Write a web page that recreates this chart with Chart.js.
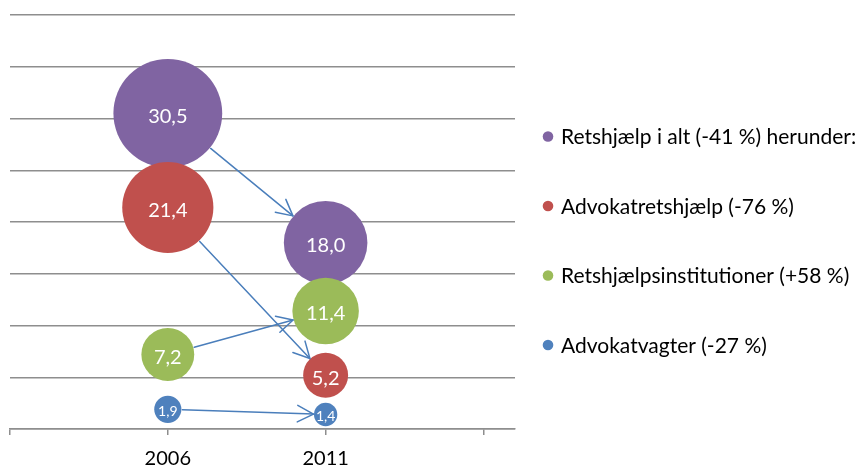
<!DOCTYPE html>
<html>
<head>
<meta charset="utf-8">
<script src="https://cdn.jsdelivr.net/npm/chart.js@4/dist/chart.umd.min.js"></script>
<style>
html, body { margin: 0; padding: 0; background: #ffffff; }
canvas { display: block; }
</style>
</head>
<body>
<canvas id="chart" width="864" height="468"></canvas>
<script>
// ---- data ----
const years = [2006, 2011];
const seriesNames = [
  'Retshjælp i alt (-41 %) herunder:',
  'Advokatretshjælp (-76 %)',
  'Retshjælpsinstitutioner (+58 %)',
  'Advokatvagter (-27 %)'
];
const totalAid = [30.5, 18.0];
const lawyerAid = [21.4, 5.2];
const institutions = [7.2, 11.4];
const lawyerDuty = [1.9, 1.4];
const xTickValues = [2001, 2006, 2011, 2016];
const xTickLabels = ['', '2006', '2011', ''];

// ---- styling ----
const seriesColors = ['#8064A2', '#C0504D', '#9BBB59', '#4F81BD'];
const arrowColor = '#4A7EBB';
const gridColor = '#8e8e8e';
const FONT = 'Lato';
const bubbleScale = 9.85;

const seriesValues = [totalAid, lawyerAid, institutions, lawyerDuty];

const datasets = seriesValues.map((vals, i) => ({
  label: seriesNames[i],
  data: years.map((yr, j) => ({ x: yr, y: vals[j] })),
  backgroundColor: seriesColors[i],
  borderColor: seriesColors[i],
  borderWidth: 0,
  hoverBorderWidth: 0,
  order: seriesValues.length - i,
  clip: false,
  radius: (ctx) => bubbleScale * Math.sqrt(ctx.raw ? ctx.raw.y : 1)
}));

const fmt = (v) => v.toFixed(1).replace('.', ',');

const arrowsAndLabels = {
  id: 'arrowsAndLabels',
  afterDatasetsDraw(chart) {
    const ctx = chart.ctx;
    ctx.save();
    chart.data.datasets.forEach((ds, di) => {
      const meta = chart.getDatasetMeta(di);
      const a = meta.data[0], b = meta.data[1];
      if (!a || !b) return;
      const ra = a.options.radius, rb = b.options.radius;
      const dx = b.x - a.x, dy = b.y - a.y;
      const len = Math.hypot(dx, dy);
      const ux = dx / len, uy = dy / len;
      const sx = a.x + ux * (ra + 1), sy = a.y + uy * (ra + 1);
      const ex = b.x - ux * (rb + 0.5), ey = b.y - uy * (rb + 0.5);
      ctx.strokeStyle = arrowColor;
      ctx.lineWidth = 1.5;
      ctx.lineCap = 'round';
      ctx.lineJoin = 'round';
      ctx.beginPath();
      ctx.moveTo(sx, sy);
      ctx.lineTo(ex, ey);
      ctx.stroke();
      const ang = Math.atan2(uy, ux);
      const head = 18, spread = 0.48;
      ctx.beginPath();
      ctx.moveTo(ex - head * Math.cos(ang - spread), ey - head * Math.sin(ang - spread));
      ctx.lineTo(ex, ey);
      ctx.lineTo(ex - head * Math.cos(ang + spread), ey - head * Math.sin(ang + spread));
      ctx.stroke();
    });
    ctx.fillStyle = '#ffffff';
    ctx.textAlign = 'center';
    ctx.textBaseline = 'middle';
    chart.data.datasets.forEach((ds, di) => {
      const meta = chart.getDatasetMeta(di);
      meta.data.forEach((el, j) => {
        const v = ds.data[j].y;
        const small = v < 3;
        ctx.font = (small ? 14 : 20) + 'px ' + FONT;
        ctx.fillText(fmt(v), el.x, el.y + (small ? 2 : 3));
      });
    });
    ctx.restore();
  }
};

// legend drawn to the right of the plot area from the dataset labels/colours
const sideLegend = {
  id: 'sideLegend',
  afterDraw(chart) {
    const ctx = chart.ctx;
    const area = chart.chartArea;
    const dsList = chart.data.datasets;
    const rowGap = 69.5;
    const cx = area.right + 33;
    const firstY = 136.5;
    ctx.save();
    ctx.font = '21px ' + FONT;
    ctx.textBaseline = 'middle';
    ctx.textAlign = 'left';
    dsList.forEach((ds, i) => {
      const y = firstY + i * rowGap;
      ctx.fillStyle = ds.backgroundColor;
      ctx.beginPath();
      ctx.arc(cx, y, 5.3, 0, Math.PI * 2);
      ctx.fill();
      ctx.fillStyle = '#000000';
      ctx.fillText(ds.label, cx + 13, y + 1);
    });
    ctx.restore();
  }
};

new Chart(document.getElementById('chart'), {
  type: 'bubble',
  data: { datasets },
  plugins: [arrowsAndLabels, sideLegend],
  options: {
    responsive: false,
    animation: false,
    devicePixelRatio: 1,
    events: [],
    layout: { autoPadding: false, padding: { top: 15, left: 10, right: 349, bottom: -14 } },
    plugins: {
      tooltip: { enabled: false },
      legend: { display: false }
    },
    scales: {
      x: {
        type: 'linear',
        min: 2001,
        max: 2017,
        afterBuildTicks: (scale) => { scale.ticks = xTickValues.map(v => ({ value: v })); },
        ticks: {
          autoSkip: false,
          maxRotation: 0,
          padding: 8,
          color: '#000000',
          font: { family: FONT, size: 20, lineHeight: 1.55 },
          callback: (value) => {
            const k = xTickValues.indexOf(value);
            return k >= 0 ? xTickLabels[k] : '';
          }
        },
        grid: {
          drawOnChartArea: false,
          drawTicks: true,
          tickLength: 6,
          color: gridColor,
          lineWidth: 1.5
        },
        border: { display: true, color: gridColor, width: 1.5 }
      },
      y: {
        type: 'linear',
        min: 0,
        max: 40,
        ticks: { display: false, stepSize: 5 },
        grid: { color: gridColor, lineWidth: 1.5, drawTicks: false },
        border: { display: false }
      }
    }
  }
});
</script>
</body>
</html>
